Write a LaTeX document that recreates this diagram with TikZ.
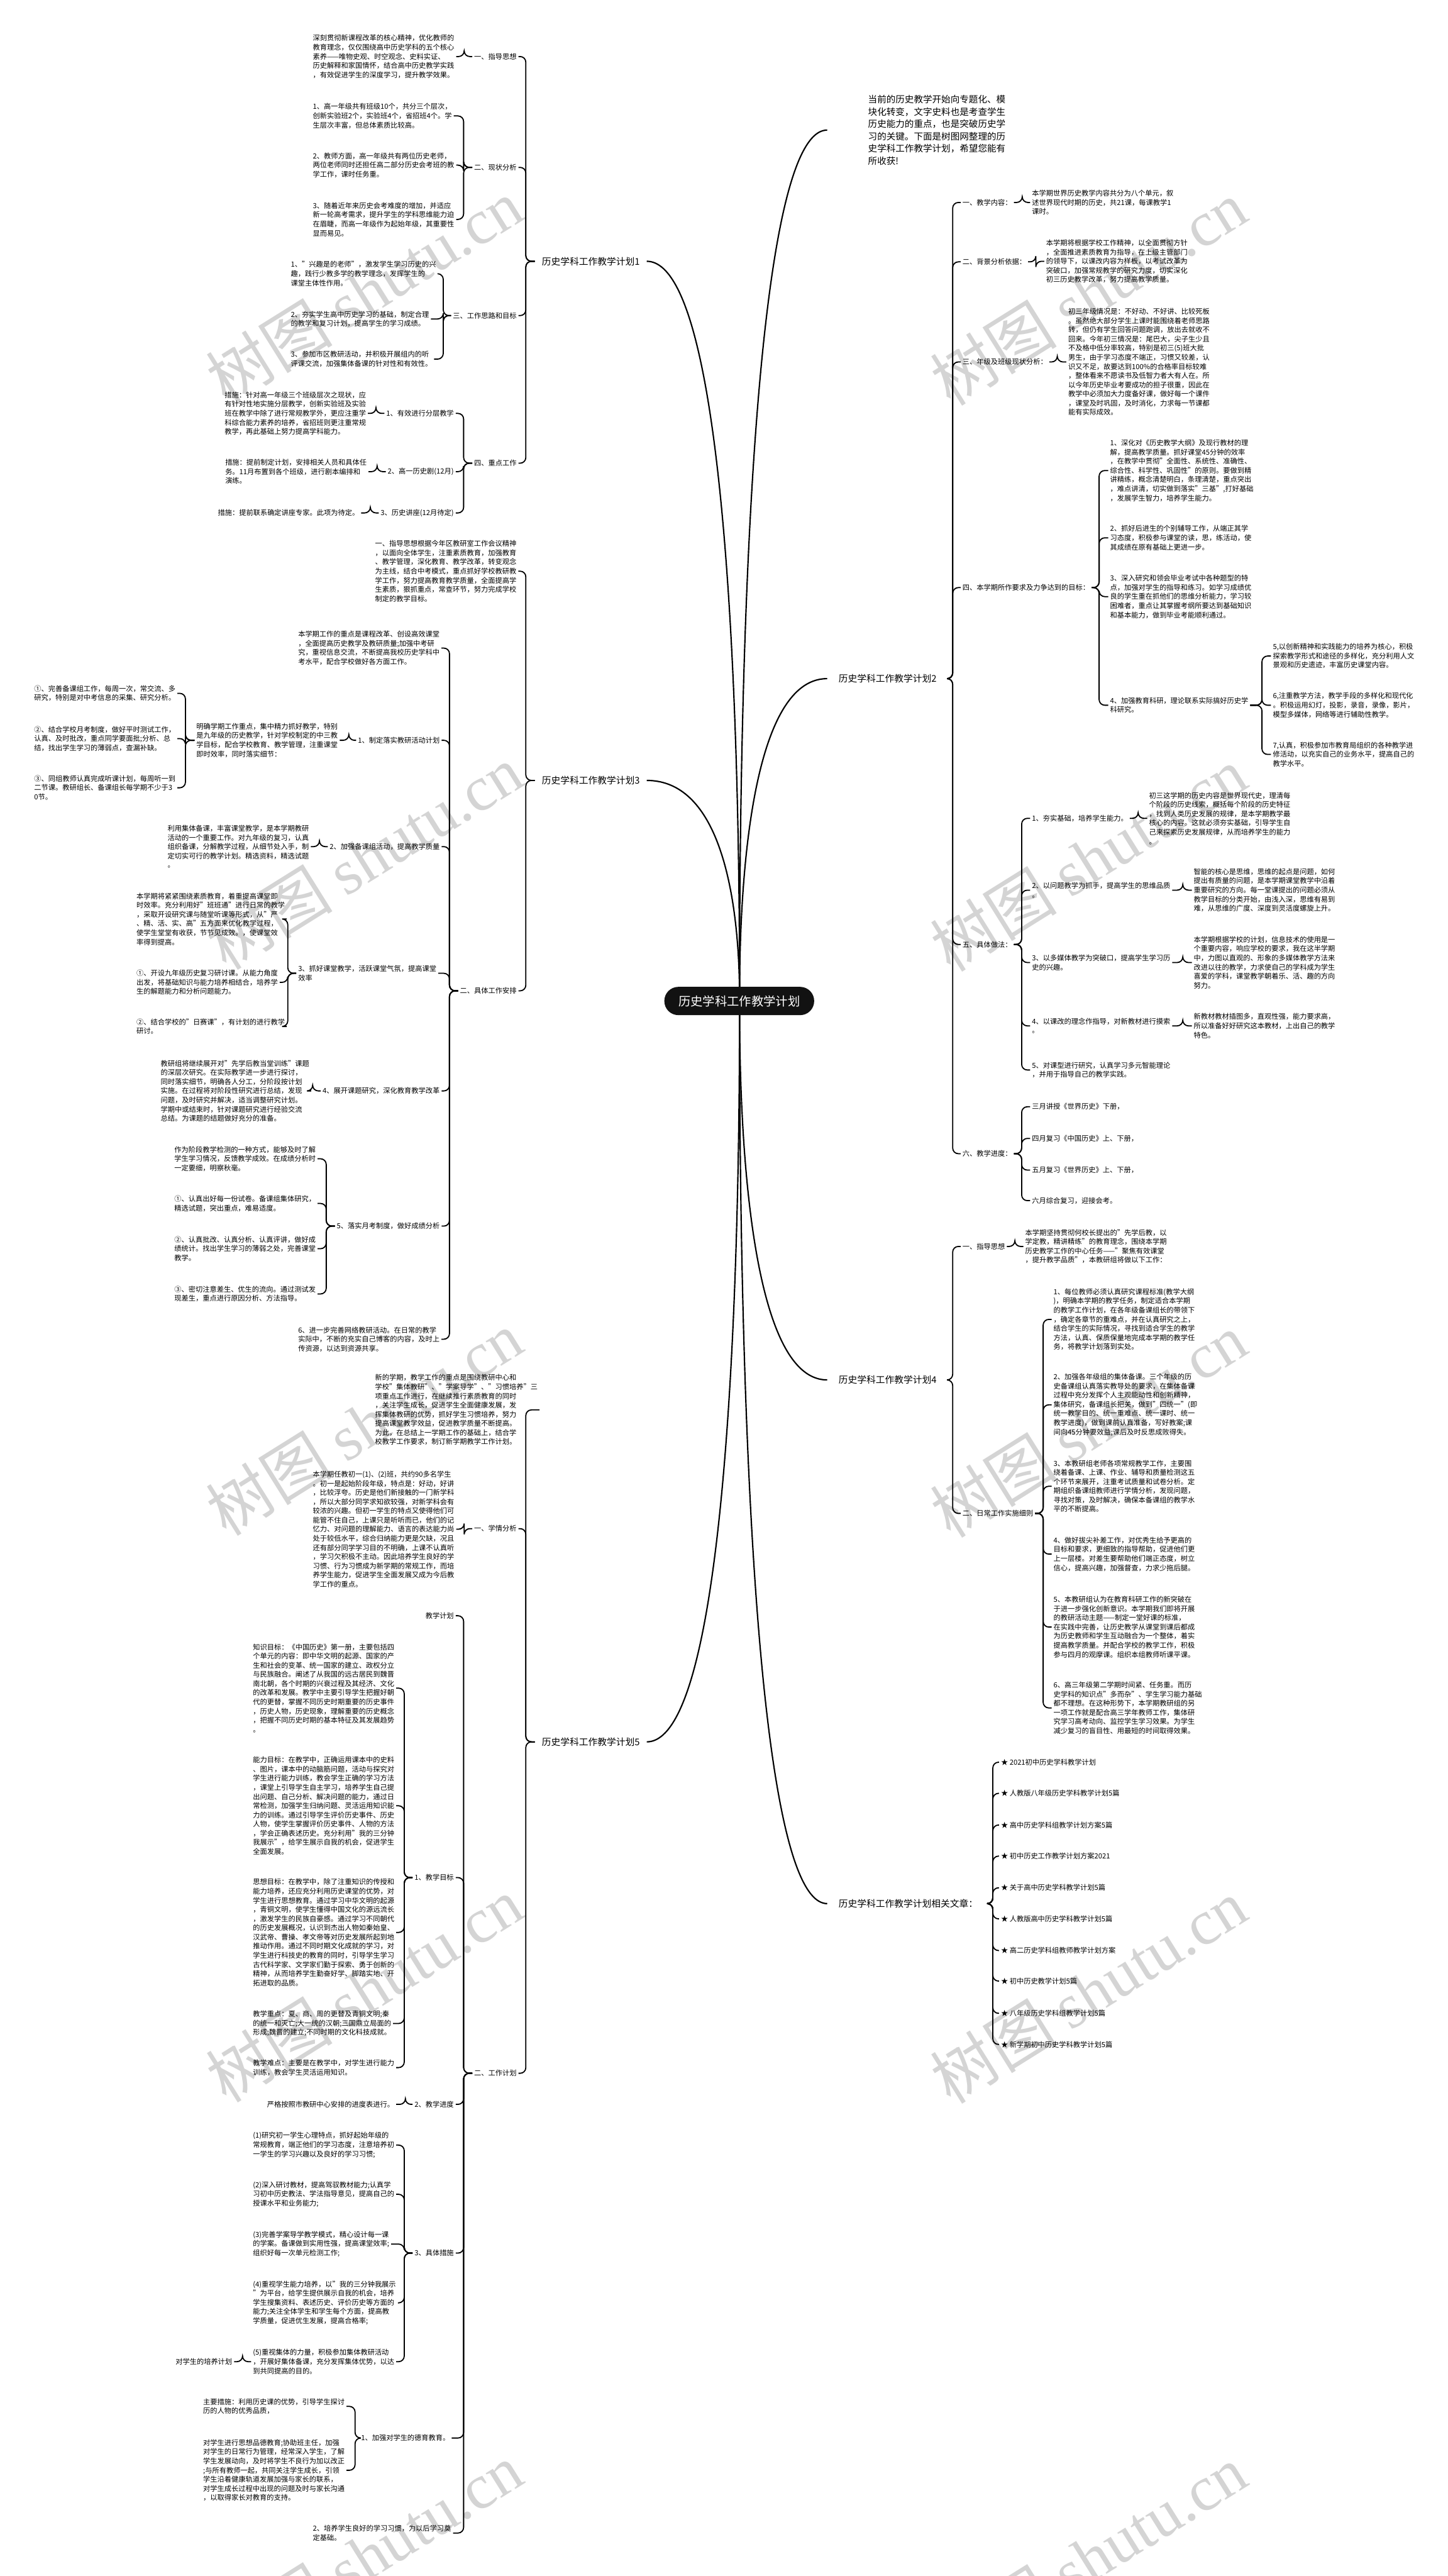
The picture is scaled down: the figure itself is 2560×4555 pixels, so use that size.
\documentclass[tikz,border=0pt]{standalone}
\usepackage{fontspec}
\setmainfont{Noto Sans CJK SC}
\newfontfamily\wmlat{Liberation Serif}
\newcommand\fsA{\fontsize{6.25pt}{8.1pt}\selectfont}
\newcommand\fsB{\fontsize{8.2pt}{10pt}\selectfont}
\newcommand\fsI{\fontsize{8.1pt}{10.9pt}\selectfont}
\newcommand\fsC{\fontsize{10.75pt}{13pt}\selectfont}
\newcommand\fsW{\fontsize{56pt}{60pt}\selectfont}
\tikzset{
 tx/.style={align=left, font=\fsA, inner sep=1.5pt},
 lvone/.style={font=\fsB, inner xsep=6pt, inner ysep=2pt},
 lvoneR/.style={font=\fsB, inner xsep=10pt, inner ysep=2pt},
 conn/.style={line width=1pt, rounded corners=5pt},
 crv/.style={line width=1.2pt},
 wm/.style={font=\fsW, text=black!17, rotate=32}
}
\newcommand\Lk[3]{\draw[conn] (#1.west) -- (#1.west -| #3,0) |- (#2.east);}
\newcommand\Rk[3]{\draw[conn] (#1.east) -- (#1.east -| #3,0) |- (#2.west);}
\begin{document}
\begin{tikzpicture}[x=0.5pt,y=-0.5pt]
\fill[white] (0,0) rectangle (2560,4555);
\useasboundingbox (0,0) rectangle (2560,4555);
% watermarks
\foreach \k in {0,1,2,3,4}{
 \node[wm] (wl\k) at (644,515+1001*\k) {树图 {\wmlat shutu.cn}};
 \node[wm] (wr\k) at (1925,518+1001*\k) {树图 {\wmlat shutu.cn}};
}
% ================= Plan 1 =================
\node[lvone, anchor=west] (P1) at (946,462) {历史学科工作教学计划1};
\node[tx, anchor=east] (a1) at (917,100) {一、指导思想};
\node[tx, anchor=east] (a2) at (917,296) {二、现状分析};
\node[tx, anchor=east] (a3) at (917,558) {三、工作思路和目标};
\node[tx, anchor=east] (a4) at (917,819) {四、重点工作};
\node[tx, anchor=west] (a1t) at (550,100) {深刻贯彻新课程改革的核心精神，优化教师的\\教育理念，仅仅围绕高中历史学科的五个核心\\素养——唯物史观、时空观念、史料实证、\\历史解释和家国情怀，结合高中历史教学实践\\，有效促进学生的深度学习，提升教学效果。};
\node[tx, anchor=west] (a2t1) at (550,205) {1、高一年级共有班级10个，共分三个层次，\\创新实验班2个，实验班4个，省招班4个。学\\生层次丰富，但总体素质比较高。};
\node[tx, anchor=west] (a2t2) at (550,292) {2、教师方面，高一年级共有两位历史老师，\\两位老师同时还担任高二部分历史会考班的教\\学工作，课时任务重。};
\node[tx, anchor=west] (a2t3) at (550,388) {3、随着近年来历史会考难度的增加，并适应\\新一轮高考需求，提升学生的学科思维能力迫\\在眉睫，而高一年级作为起始年级，其重要性\\显而易见。};
\node[tx, anchor=west] (a3t1) at (511,484) {1、"兴趣是的老师"，激发学生学习历史的兴\\趣，践行少教多学的教学理念，发挥学生的\\课堂主体性作用。};
\node[tx, anchor=west] (a3t2) at (511,564) {2、夯实学生高中历史学习的基础，制定合理\\的教学和复习计划，提高学生的学习成绩。};
\node[tx, anchor=west] (a3t3) at (511,635) {3、参加市区教研活动，并积极开展组内的听\\评课交流，加强集体备课的针对性和有效性。};
\node[tx, anchor=east] (a4l1) at (806,731) {1、有效进行分层教学};
\node[tx, anchor=east] (a4l2) at (806,834) {2、高一历史剧(12月)};
\node[tx, anchor=east] (a4l3) at (806,907) {3、历史讲座(12月待定)};
\node[tx, anchor=west] (a4t1) at (394,731) {措施：针对高一年级三个班级层次之现状，应\\有针对性地实施分层教学，创新实验班及实验\\班在教学中除了进行常规教学外，更应注重学\\科综合能力素养的培养，省招班则更注重常规\\教学，再此基础上努力提高学科能力。};
\node[tx, anchor=west] (a4t2) at (395,834) {措施：提前制定计划，安排相关人员和具体任\\务。11月布置到各个班级，进行剧本编排和\\演练。};
\node[tx, anchor=west] (a4t3) at (382,907) {措施：提前联系确定讲座专家。此项为待定。};
\foreach \c in {a1,a2,a3,a4}{\Lk{P1}{\c}{930}}
\Lk{a1}{a1t}{821}
\foreach \c in {a2t1,a2t2,a2t3}{\Lk{a2}{\c}{820}}
\foreach \c in {a3t1,a3t2,a3t3}{\Lk{a3}{\c}{784}}
\foreach \c in {a4l1,a4l2,a4l3}{\Lk{a4}{\c}{820}}
\Lk{a4l1}{a4t1}{665}
\Lk{a4l2}{a4t2}{667}
\Lk{a4l3}{a4t3}{655}
% ================= Plan 3 =================
\node[lvone, anchor=west] (P3) at (946,1380) {历史学科工作教学计划3};
\node[tx, anchor=west] (b1t) at (660,1010) {一、指导思想根据今年区教研室工作会议精神\\，以面向全体学生，注重素质教育，加强教育\\、教学管理，深化教育、教学改革，转变观念\\为主线，结合中考模式，重点抓好学校教研教\\学工作，努力提高教育教学质量，全面提高学\\生素质，狠抓重点，常查环节，努力完成学校\\制定的教学目标。};
\node[tx, anchor=east] (b2) at (917,1752) {二、具体工作安排};
\Lk{P3}{b1t}{930}
\Lk{P3}{b2}{930}
\node[tx, anchor=west] (b2t1) at (524,1146) {本学期工作的重点是课程改革、创设高效课堂\\，全面提高历史教学及教研质量;加强中考研\\究，重视信息交流，不断提高我校历史学科中\\考水平，配合学校做好各方面工作。};
\node[tx, anchor=east] (b2l1) at (781,1309) {1、制定落实教研活动计划};
\node[tx, anchor=east] (b2l2) at (781,1497) {2、加强备课组活动，提高教学质量};
\node[tx, anchor=west] (b2l3) at (524,1721) {3、抓好课堂教学，活跃课堂气氛，提高课堂\\效率};
\node[tx, anchor=east] (b2l4) at (781,1929) {4、展开课题研究，深化教育教学改革};
\node[tx, anchor=east] (b2l5) at (781,2168) {5、落实月考制度，做好成绩分析};
\node[tx, anchor=west] (b2t6) at (524,2368) {6、进一步完善网络教研活动。在日常的教学\\实际中，不断的充实自己博客的内容，及时上\\传资源，以达到资源共享。};
\foreach \c in {b2t1,b2l1,b2l2,b2l3,b2l4,b2l5,b2t6}{\Lk{b2}{\c}{795}}
\node[tx, anchor=west] (b2l1t) at (344,1309) {明确学期工作重点，集中精力抓好教学，特别\\是九年级的历史教学，针对学校制定的中三教\\学目标，配合学校教育、教学管理，注重课堂\\即时效率，同时落实细节：};
\Lk{b2l1}{b2l1t}{617}
\node[tx, anchor=west] (c1) at (57,1226) {①、完善备课组工作，每周一次，常交流、多\\研究，特别是对中考信息的采集、研究分析。};
\node[tx, anchor=west] (c2) at (57,1306) {②、结合学校月考制度，做好平时测试工作，\\认真、及时批改，重点同学要面批;分析、总\\结，找出学生学习的薄弱点，查漏补缺。};
\node[tx, anchor=west] (c3) at (57,1393) {③、同组教师认真完成听课计划，每周听一到\\二节课。教研组长、备课组长每学期不少于3\\0节。};
\foreach \c in {c1,c2,c3}{\Lk{b2l1t}{\c}{328}}
\node[tx, anchor=west] (b2l2t) at (293,1497) {利用集体备课，丰富课堂教学，是本学期教研\\活动的一个重要工作。对九年级的复习，认真\\组织备课，分解教学过程，从细节处入手，制\\定切实可行的教学计划。精选资料，精选试题\\。};
\Lk{b2l2}{b2l2t}{565}
\node[tx, anchor=west] (b2l3a) at (238,1625) {本学期将紧紧围绕素质教育，着重提高课堂即\\时效率。充分利用好"班班通"进行日常的教学\\，采取开设研究课与随堂听课等形式，从"严\\、精、活、实、高"五方面来优化教学过程，\\使学生堂堂有收获，节节见成效。，使课堂效\\率得到提高。};
\node[tx, anchor=west] (b2l3b) at (238,1737) {①、开设九年级历史复习研讨课。从能力角度\\出发，将基础知识与能力培养相结合，培养学\\生的解题能力和分析问题能力。};
\node[tx, anchor=west] (b2l3c) at (238,1815) {②、结合学校的"日赛课"，有计划的进行教学\\研讨。};
\foreach \c in {b2l3a,b2l3b,b2l3c}{\Lk{b2l3}{\c}{509}}
\node[tx, anchor=west] (b2l4t) at (281,1929) {教研组将继续展开对"先学后教当堂训练"课题\\的深层次研究。在实际教学进一步进行探讨，\\同时落实细节，明确各人分工，分阶段按计划\\实施。在过程将对阶段性研究进行总结，发现\\问题，及时研究并解决，适当调整研究计划。\\学期中或结束时，针对课题研究进行经验交流\\总结。为课题的结题做好充分的准备。};
\Lk{b2l4}{b2l4t}{553}
\node[tx, anchor=west] (b2l5a) at (305,2049) {作为阶段教学检测的一种方式，能够及时了解\\学生学习情况，反馈教学成效。在成绩分析时\\一定要细，明察秋毫。};
\node[tx, anchor=west] (b2l5b) at (305,2128) {①、认真出好每一份试卷。备课组集体研究，\\精选试题，突出重点，难易适度。};
\node[tx, anchor=west] (b2l5c) at (305,2208) {②、认真批改、认真分析、认真评讲，做好成\\绩统计。找出学生学习的薄弱之处，完善课堂\\教学。};
\node[tx, anchor=west] (b2l5d) at (305,2288) {③、密切注意差生、优生的流向。通过测试发\\现差生，重点进行原因分析、方法指导。};
\foreach \c in {b2l5a,b2l5b,b2l5c,b2l5d}{\Lk{b2l5}{\c}{577}}
% ================= Plan 5 =================
\node[lvone, anchor=west] (P5) at (946,3080) {历史学科工作教学计划5};
\node[tx, anchor=west] (d1t) at (660,2493) {新的学期，教学工作的重点是围绕教研中心和\\学校"集体教研"、"学案导学"、"习惯培养"三\\项重点工作进行，在继续推行素质教育的同时\\，关注学生成长，促进学生全面健康发展，发\\挥集体教研的优势，抓好学生习惯培养，努力\\提高课堂教学效益，促进教学质量不断提高。\\为此，在总结上一学期工作的基础上，结合学\\校教学工作要求，制订新学期教学工作计划。};
\node[tx, anchor=east] (d2) at (917,2703) {一、学情分析};
\node[tx, anchor=east] (d3) at (917,3666) {二、工作计划};
\foreach \c in {d1t,d2,d3}{\Lk{P5}{\c}{930}}
\node[tx, anchor=west] (d2t) at (550,2704) {本学期任教初一(1)、(2)班，共约90多名学生\\。初一是起始阶段年级，特点是：好动，好讲\\，比较浮夸。历史是他们新接触的一门新学科\\，所以大部分同学求知欲较强，对新学科会有\\较浓的兴趣。但初一学生的特点又使得他们可\\能管不住自己，上课只是听听而已，他们的记\\忆力、对问题的理解能力、语言的表达能力尚\\处于较低水平，综合归纳能力更是欠缺，况且\\还有部分同学学习目的不明确，上课不认真听\\，学习欠积极不主动。因此培养学生良好的学\\习惯、行为习惯成为新学期的常规工作，而培\\养学生能力，促进学生全面发展又成为今后教\\学工作的重点。};
\Lk{d2}{d2t}{821}
\node[tx, anchor=east] (e1) at (806,2857) {教学计划};
\node[tx, anchor=east] (e2) at (806,3320) {1、教学目标};
\node[tx, anchor=east] (e3) at (806,3721) {2、教学进度};
\node[tx, anchor=east] (e4) at (806,3984) {3、具体措施};
\node[tx, anchor=east] (e5) at (799,4311) {1、加强对学生的德育教育。};
\node[tx, anchor=west] (e6) at (550,4479) {2、培养学生良好的学习习惯，为以后学习奠\\定基础。};
\foreach \c in {e1,e2,e3,e4,e5,e6}{\Lk{d3}{\c}{820}}
\node[tx, anchor=west] (e2a) at (444,2985) {知识目标：《中国历史》第一册，主要包括四\\个单元的内容：即中华文明的起源、国家的产\\生和社会的变革、统一国家的建立、政权分立\\与民族融合。阐述了从我国的远古居民到魏晋\\南北朝，各个时期的兴衰过程及其经济、文化\\的改革和发展。教学中主要引导学生把握好朝\\代的更替，掌握不同历史时期重要的历史事件\\，历史人物，历史现象，理解重要的历史概念\\，把握不同历史时期的基本特征及其发展趋势\\。};
\node[tx, anchor=west] (e2b) at (444,3193) {能力目标：在教学中，正确运用课本中的史料\\、图片，课本中的动脑筋问题，活动与探究对\\学生进行能力训练，教会学生正确的学习方法\\，课堂上引导学生自主学习，培养学生自己提\\出问题、自己分析、解决问题的能力，通过日\\常检测，加强学生归纳问题、灵活运用知识能\\力的训练。通过引导学生评价历史事件、历史\\人物，使学生掌握评价历史事件、人物的方法\\，学会正确表述历史。充分利用"我的三分钟\\我展示"，给学生展示自我的机会，促进学生\\全面发展。};
\node[tx, anchor=west] (e2c) at (444,3417) {思想目标：在教学中，除了注重知识的传授和\\能力培养，还应充分利用历史课堂的优势，对\\学生进行思想教育。通过学习中华文明的起源\\，青铜文明，使学生懂得中国文化的源远流长\\，激发学生的民族自豪感。通过学习不同朝代\\的历史发展概况，认识到杰出人物如秦始皇、\\汉武帝、曹操、孝文帝等对历史发展所起到地\\推动作用。通过不同时期文化成就的学习，对\\学生进行科技史的教育的同时，引导学生学习\\古代科学家、文学家们勤于探索、勇于创新的\\精神，从而培养学生勤奋好学、脚踏实地、开\\拓进取的品质。};
\node[tx, anchor=west] (e2d) at (444,3578) {教学重点：夏、商、周的更替及青铜文明;秦\\的统一和灭亡;大一统的汉朝;三国鼎立局面的\\形成;魏晋的建立;不同时期的文化科技成就。};
\node[tx, anchor=west] (e2e) at (444,3656) {教学难点：主要是在教学中，对学生进行能力\\训练，教会学生灵活运用知识。};
\foreach \c in {e2a,e2b,e2c,e2d,e2e}{\Lk{e2}{\c}{715}}
\node[tx, anchor=west] (e3t) at (469,3721) {严格按照市教研中心安排的进度表进行。};
\Lk{e3}{e3t}{717}
\node[tx, anchor=west] (f1) at (444,3793) {(1)研究初一学生心理特点，抓好起始年级的\\常规教育，端正他们的学习态度，注意培养初\\一学生的学习兴趣以及良好的学习习惯;};
\node[tx, anchor=west] (f2) at (444,3880) {(2)深入研讨教材，提高驾驭教材能力;认真学\\习初中历史教法、学法指导意见，提高自己的\\授课水平和业务能力;};
\node[tx, anchor=west] (f3) at (444,3968) {(3)完善学案导学教学模式，精心设计每一课\\的学案。备课做到实用性强，提高课堂效率;\\组织好每一次单元检测工作;};
\node[tx, anchor=west] (f4) at (444,4072) {(4)重视学生能力培养，以"我的三分钟我展示\\"为平台，给学生提供展示自我的机会，培养\\学生搜集资料、表述历史、评价历史等方面的\\能力;关注全体学生和学生每个方面，提高教\\学质量，促进优生发展，提高合格率;};
\node[tx, anchor=west] (f5) at (444,4176) {(5)重视集体的力量，积极参加集体教研活动\\，开展好集体备课，充分发挥集体优势，以达\\到共同提高的目的。};
\foreach \c in {f1,f2,f3,f4,f5}{\Lk{e4}{\c}{715}}
\node[tx, anchor=east] (f5x) at (414,4176) {对学生的培养计划};
\Lk{f5}{f5x}{429}
\node[tx, anchor=west] (e5a) at (356,4255) {主要措施：利用历史课的优势，引导学生探讨\\历的人物的优秀品质，};
\node[tx, anchor=west] (e5b) at (356,4368) {对学生进行思想品德教育;协助班主任，加强\\对学生的日常行为管理，经常深入学生，了解\\学生发展动向，及时将学生不良行为加以改正\\;与所有教师一起，共同关注学生成长，引领\\学生沿着健康轨道发展加强与家长的联系，\\对学生成长过程中出现的问题及时与家长沟通\\，以取得家长对教育的支持。};
\foreach \c in {e5a,e5b}{\Lk{e5}{\c}{628}}
% ================= Intro =================
\node[font=\fsI, align=left, anchor=west, inner xsep=36pt, inner ysep=2pt] (IN) at (1463,230) {当前的历史教学开始向专题化、模\\块化转变，文字史料也是考查学生\\历史能力的重点，也是突破历史学\\习的关键。下面是树图网整理的历\\史学科工作教学计划，希望您能有\\所收获!};
% ================= Plan 2 =================
\node[lvoneR, anchor=west] (P2) at (1463,1200) {历史学科工作教学计划2};
\node[tx, anchor=west] (g1) at (1699,358) {一、教学内容：};
\node[tx, anchor=west] (g2) at (1699,463) {二、背景分析依据：};
\node[tx, anchor=west] (g3) at (1699,640) {三、年级及班级现状分析：};
\node[tx, anchor=west] (g4) at (1699,1039) {四、本学期所作要求及力争达到的目标：};
\node[tx, anchor=west] (g5) at (1699,1670) {五、具体做法：};
\node[tx, anchor=west] (g6) at (1699,2040) {六、教学进度：};
\foreach \c in {g1,g2,g3,g4,g5,g6}{\Rk{P2}{\c}{1685}}
\node[tx, anchor=west] (g1t) at (1822,358) {本学期世界历史教学内容共分为八个单元，叙\\述世界现代时期的历史，共21课，每课教学1\\课时。};
\Rk{g1}{g1t}{1808}
\node[tx, anchor=west] (g2t) at (1847,462) {本学期将根据学校工作精神，以全面贯彻方针\\，全面推进素质教育为指导，在上级主管部门\\的领导下，以课改内容为样板，以考试改革为\\突破口，加强常规教学的研究力度，切实深化\\初三历史教学改革，努力提高教学质量。};
\Rk{g2}{g2t}{1832}
\node[tx, anchor=west] (g3t) at (1886,640) {初三年级情况是：不好动、不好讲、比较死板\\。虽然绝大部分学生上课时能围绕着老师思路\\转，但仍有学生回答问题跑调，放出去就收不\\回来。今年初三情况是：尾巴大，尖子生少且\\不及格中低分率较高，特别是初三(5)班大批\\男生，由于学习态度不端正，习惯又较差，认\\识又不足，故要达到100\%的合格率目标较难\\，整体看来不愿读书及低智力者大有人在。所\\以今年历史毕业考要成功的担子很重，因此在\\教学中必须加大力度备好课，做好每一个课件\\，课堂及时巩固，及时消化，力求每一节课都\\能有实际成效。};
\Rk{g3}{g3t}{1870}
\node[tx, anchor=west] (g4a) at (1960,832) {1、深化对《历史教学大纲》及现行教材的理\\解，提高教学质量。抓好课堂45分钟的效率\\，在教学中贯彻"全面性、系统性、准确性、\\综合性、科学性、巩固性"的原则。要做到精\\讲精练，概念清楚明白，条理清楚，重点突出\\，难点讲清，切实做到落实"三基",打好基础\\，发展学生智力，培养学生能力。};
\node[tx, anchor=west] (g4b) at (1960,951) {2、抓好后进生的个别辅导工作，从端正其学\\习态度，积极参与课堂的读，思，练活动，使\\其成绩在原有基础上更进一步。};
\node[tx, anchor=west] (g4c) at (1960,1055) {3、深入研究和领会毕业考试中各种题型的特\\点，加强对学生的指导和练习。如学习成绩优\\良的学生重在抓他们的思维分析能力，学习较\\困难者，重点让其掌握考纲所要达到基础知识\\和基本能力，做到毕业考能顺利通过。};
\node[tx, anchor=west] (g4d) at (1960,1247) {4、加强教育科研，理论联系实际搞好历史学\\科研究。};
\foreach \c in {g4a,g4b,g4c,g4d}{\Rk{g4}{\c}{1944}}
\node[tx, anchor=west] (g4d5) at (2248,1160) {5,以创新精神和实践能力的培养为核心，积极\\探索教学形式和途径的多样化，充分利用人文\\景观和历史遗迹，丰富历史课堂内容。};
\node[tx, anchor=west] (g4d6) at (2248,1247) {6,注重教学方法，教学手段的多样化和现代化\\。积极运用幻灯，投影，录音，录像，影片，\\模型多媒体，网络等进行辅助性教学。};
\node[tx, anchor=west] (g4d7) at (2248,1334) {7,认真，积极参加市教育局组织的各种教学进\\修活动，以充实自己的业务水平，提高自己的\\教学水平。};
\foreach \c in {g4d5,g4d6,g4d7}{\Rk{g4d}{\c}{2232}}
\node[tx, anchor=west] (h1) at (1822,1447) {1、夯实基础，培养学生能力。};
\node[tx, anchor=west] (h2) at (1822,1574) {2、以问题教学为抓手，提高学生的思维品质\\。};
\node[tx, anchor=west] (h3) at (1822,1702) {3、以多媒体教学为突破口，提高学生学习历\\史的兴趣。};
\node[tx, anchor=west] (h4) at (1822,1814) {4、以课改的理念作指导，对新教材进行摸索\\。};
\node[tx, anchor=west] (h5) at (1822,1892) {5、对课型进行研究，认真学习多元智能理论\\，并用于指导自己的教学实践。};
\foreach \c in {h1,h2,h3,h4,h5}{\Rk{g5}{\c}{1807}}
\node[tx, anchor=west] (h1t) at (2029,1447) {初三这学期的历史内容是世界现代史，理清每\\个阶段的历史线索，概括每个阶段的历史特征\\，找到人类历史发展的规律，是本学期教学最\\核心的内容。这就必须夯实基础，引导学生自\\己来探索历史发展规律，从而培养学生的能力\\。};
\Rk{h1}{h1t}{2013}
\node[tx, anchor=west] (h2t) at (2108,1574) {智能的核心是思维，思维的起点是问题，如何\\提出有质量的问题，是本学期课堂教学中沿着\\重要研究的方向。每一堂课提出的问题必须从\\教学目标的分类开始，由浅入深，思维有易到\\难，从思维的广度、深度到灵活度螺旋上升。};
\node[tx, anchor=west] (h3t) at (2108,1702) {本学期根据学校的计划，信息技术的使用是一\\个重要内容，响应学校的要求，我在这半学期\\中，力图以直观的、形象的多媒体教学方法来\\改进以往的教学，力求使自己的学科成为学生\\喜爱的学科，课堂教学朝着乐、活、趣的方向\\努力。};
\node[tx, anchor=west] (h4t) at (2108,1814) {新教材教材插图多，直观性强，能力要求高，\\所以准备好好研究这本教材，上出自己的教学\\特色。};
\Rk{h2}{h2t}{2092}
\Rk{h3}{h3t}{2092}
\Rk{h4}{h4t}{2092}
\node[tx, anchor=west] (i1) at (1822,1957) {三月讲授《世界历史》下册，};
\node[tx, anchor=west] (i2) at (1822,2013) {四月复习《中国历史》上、下册，};
\node[tx, anchor=west] (i3) at (1822,2069) {五月复习《世界历史》上、下册，};
\node[tx, anchor=west] (i4) at (1822,2123) {六月综合复习，迎接会考。};
\foreach \c in {i1,i2,i3,i4}{\Rk{g6}{\c}{1807}}
% ================= Plan 4 =================
\node[lvoneR, anchor=west] (P4) at (1463,2440) {历史学科工作教学计划4};
\node[tx, anchor=west] (j1) at (1699,2204) {一、指导思想};
\node[tx, anchor=west] (j2) at (1699,2676) {二、日常工作实施细则};
\Rk{P4}{j1}{1685}
\Rk{P4}{j2}{1685}
\node[tx, anchor=west] (j1t) at (1810,2204) {本学期坚持贯彻何校长提出的"先学后教，以\\学定教，精讲精练"的教育理念，围绕本学期\\历史教学工作的中心任务——"聚焦有效课堂\\，提升教学品质"，本教研组将做以下工作：};
\Rk{j1}{j1t}{1795}
\node[tx, anchor=west] (j2a) at (1860,2333) {1、每位教师必须认真研究课程标准(教学大纲\\)，明确本学期的教学任务，制定适合本学期\\的教学工作计划，在各年级备课组长的带领下\\，确定各章节的重难点，并在认真研究之上，\\结合学生的实际情况，寻找到适合学生的教学\\方法，认真、保质保量地完成本学期的教学任\\务，将教学计划落到实处。};
\node[tx, anchor=west] (j2b) at (1860,2484) {2、加强各年级组的集体备课。三个年级的历\\史备课组认真落实教导处的要求，在集体备课\\过程中充分发挥个人主观能动性和创新精神，\\集体研究，备课组长把关，做到"四统一"(即\\统一教学目的、统一重难点、统一课时、统一\\教学进度)，做到课前认真准备，写好教案;课\\间向45分钟要效益;课后及时反思成败得失。};
\node[tx, anchor=west] (j2c) at (1860,2628) {3、本教研组老师各项常规教学工作，主要围\\绕着备课、上课、作业、辅导和质量检测这五\\个环节来展开，注重考试质量和试卷分析。定\\期组织备课组教师进行学情分析，发现问题，\\寻找对策，及时解决，确保本备课组的教学水\\平的不断提高。};
\node[tx, anchor=west] (j2d) at (1860,2748) {4、做好拔尖补差工作，对优秀生给予更高的\\目标和要求，更细致的指导帮助，促进他们更\\上一层楼。对差生要帮助他们端正态度，树立\\信心，提高兴趣，加强督查，力求少拖后腿。};
\node[tx, anchor=west] (j2e) at (1860,2877) {5、本教研组认为在教育科研工作的新突破在\\于进一步强化创新意识。本学期我们即将开展\\的教研活动主题——制定一堂好课的标准，\\在实践中完善，让历史教学从课堂到课后都成\\为历史教师和学生互动融合为一个整体，着实\\提高教学质量。并配合学校的教学工作，积极\\参与四月的观摩课。组织本组教师听课平课。};
\node[tx, anchor=west] (j2f) at (1860,3020) {6、高三年级第二学期时间紧、任务重。而历\\史学科的知识点"多而杂"、学生学习能力基础\\都不理想。在这种形势下，本学期教研组的另\\一项工作就是配合高三学年教师工作，集体研\\究学习高考动向、监控学生学习效果。为学生\\减少复习的盲目性、用最短的时间取得效果。};
\foreach \c in {j2a,j2b,j2c,j2d,j2e,j2f}{\Rk{j2}{\c}{1845}}
% ================= Related =================
\node[lvoneR, anchor=west] (PR) at (1463,3366) {历史学科工作教学计划相关文章：};
\node[tx, anchor=west] (k1) at (1767,3116) {★ 2021初中历史学科教学计划};
\node[tx, anchor=west] (k2) at (1767,3171) {★ 人教版八年级历史学科教学计划5篇};
\node[tx, anchor=west] (k3) at (1767,3227) {★ 高中历史学科组教学计划方案5篇};
\node[tx, anchor=west] (k4) at (1767,3282) {★ 初中历史工作教学计划方案2021};
\node[tx, anchor=west] (k5) at (1767,3338) {★ 关于高中历史学科教学计划5篇};
\node[tx, anchor=west] (k6) at (1767,3393) {★ 人教版高中历史学科教学计划5篇};
\node[tx, anchor=west] (k7) at (1767,3449) {★ 高二历史学科组教师教学计划方案};
\node[tx, anchor=west] (k8) at (1767,3503) {★ 初中历史教学计划5篇};
\node[tx, anchor=west] (k9) at (1767,3560) {★ 八年级历史学科组教学计划5篇};
\node[tx, anchor=west] (k10) at (1767,3615) {★ 新学期初中历史学科教学计划5篇};
\foreach \c in {k1,k2,k3,k4,k5,k6,k7,k8,k9,k10}{\Rk{PR}{\c}{1756}}
% ================= Center & curves =================
\coordinate (cc) at (1308,1770);
\draw[crv] (cc) .. controls (1308,1561) and (1308,462) .. (P1.east);
\draw[crv] (cc) .. controls (1308,1708) and (1308,1380) .. (P3.east);
\draw[crv] (cc) .. controls (1308,1980) and (1308,3080) .. (P5.east);
\draw[crv] (cc) .. controls (1308,1524) and (1308,230) .. (IN.west);
\draw[crv] (cc) .. controls (1308,1679) and (1308,1200) .. (P2.west);
\draw[crv] (cc) .. controls (1308,1877) and (1308,2440) .. (P4.west);
\draw[crv] (cc) .. controls (1308,2025) and (1308,3366) .. (PR.west);
\node[fill=black!93, text=white, font=\fsC, rounded corners=12.4pt, minimum width=132.5pt, minimum height=25pt, inner sep=0pt] (C) at (1307.5,1770) {历史学科工作教学计划};
\end{tikzpicture}
\end{document}
